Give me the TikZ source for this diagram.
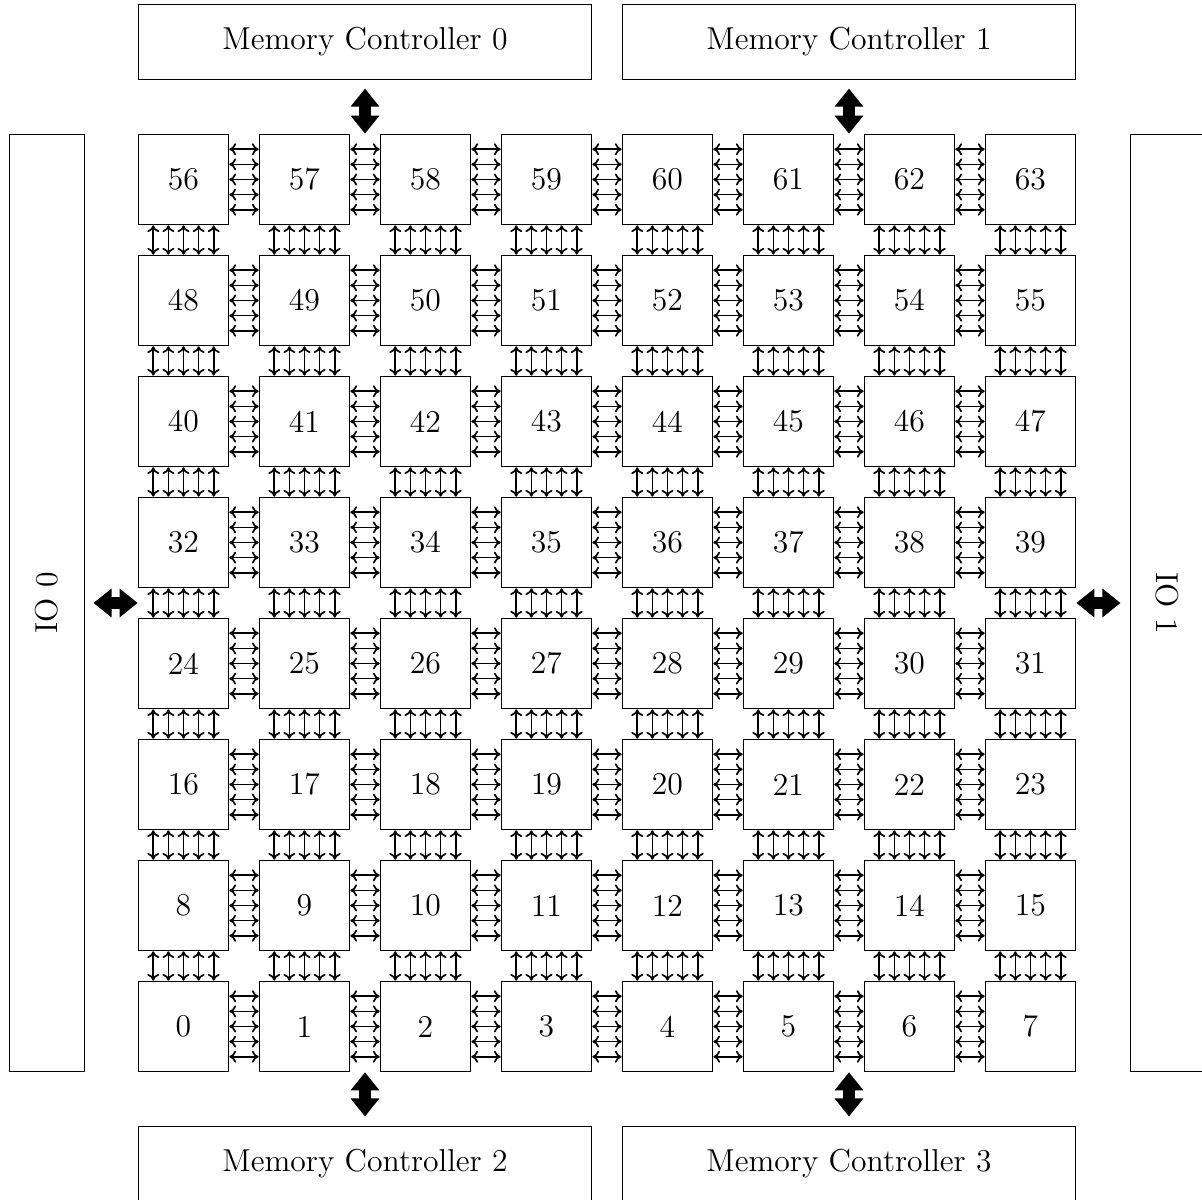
\documentclass[tikz,border=0pt]{standalone}
\usetikzlibrary{arrows.meta, positioning}

\tikzset{
	tile/.style={draw, minimum size=1.5cm, inner sep=0pt, font=\fontsize{14.9}{18}\selectfont},
	memctrl/.style={draw, minimum width=7.5cm, minimum height=1.24cm, inner sep=0pt, font=\fontsize{14.9}{18}\selectfont},
	iobox/.style={draw, minimum width=1.24cm, minimum height=15.5cm, inner sep=0pt, font=\fontsize{14.9}{18}\selectfont},
	link/.style={thick, {To[length=3.2pt,width=5.6pt]}-{To[length=3.2pt,width=5.6pt]}},
	bigarrow/.style={line width=5.5pt, {Triangle[width=13pt,length=8.5pt]}-{Triangle[width=13pt,length=8.5pt]}}
}

\begin{document}
\begin{tikzpicture}

	\useasboundingbox (-3.033,-2.868) rectangle (16.835,16.967);

	% tiles
	\foreach \r in {0,...,7}
		\foreach \c in {0,...,7}
			\pgfmathtruncatemacro{\n}{8*\r+\c}
			\node[tile] (t\n) at (2*\c, 2*\r) {\n};

	% horizontal links
	\foreach \r in {0,...,7}
		\foreach \c in {0,...,6} {
			\pgfmathtruncatemacro{\a}{8*\r+\c}
			\pgfmathtruncatemacro{\b}{8*\r+\c+1}
			\foreach \s in {-0.5,-0.25,0,0.25,0.5}
				\draw[link] ([yshift=\s cm]t\a.east) -- ([yshift=\s cm]t\b.west);
		}

	% vertical links
	\foreach \r in {0,...,6}
		\foreach \c in {0,...,7} {
			\pgfmathtruncatemacro{\a}{8*\r+\c}
			\pgfmathtruncatemacro{\b}{8*\r+\c+8}
			\foreach \s in {-0.5,-0.25,0,0.25,0.5}
				\draw[link] ([xshift=\s cm]t\a.north) -- ([xshift=\s cm]t\b.south);
		}

	% memory controllers and io
	\node[memctrl] (mc0) at (3, 16.28) {Memory Controller 0};
	\node[memctrl] (mc1) at (11, 16.28) {Memory Controller 1};
	\node[memctrl] (mc2) at (3, -2.265) {Memory Controller 2};
	\node[memctrl] (mc3) at (11, -2.265) {Memory Controller 3};
	\node[iobox] (io0) at (-2.265, 7) {\rotatebox{90}{IO 0}};
	\node[iobox] (io1) at (16.265, 7) {\rotatebox{-90}{IO 1}};

	\draw[bigarrow] ([yshift=-0.15cm]mc0.south) -- (mc0.south |- t57.north);
	\draw[bigarrow] ([yshift=-0.15cm]mc1.south) -- (mc1.south |- t61.north);
	\draw[bigarrow] ([yshift=0.15cm]mc2.north) -- (mc2.north |- t1.south);
	\draw[bigarrow] ([yshift=0.15cm]mc3.north) -- (mc3.north |- t5.south);
	\draw[bigarrow] ([xshift=0.15cm]io0.east) -- (io0.east -| t24.west);
	\draw[bigarrow] ([xshift=-0.15cm]io1.west) -- (io1.west -| t31.east);

\end{tikzpicture}
\end{document}
